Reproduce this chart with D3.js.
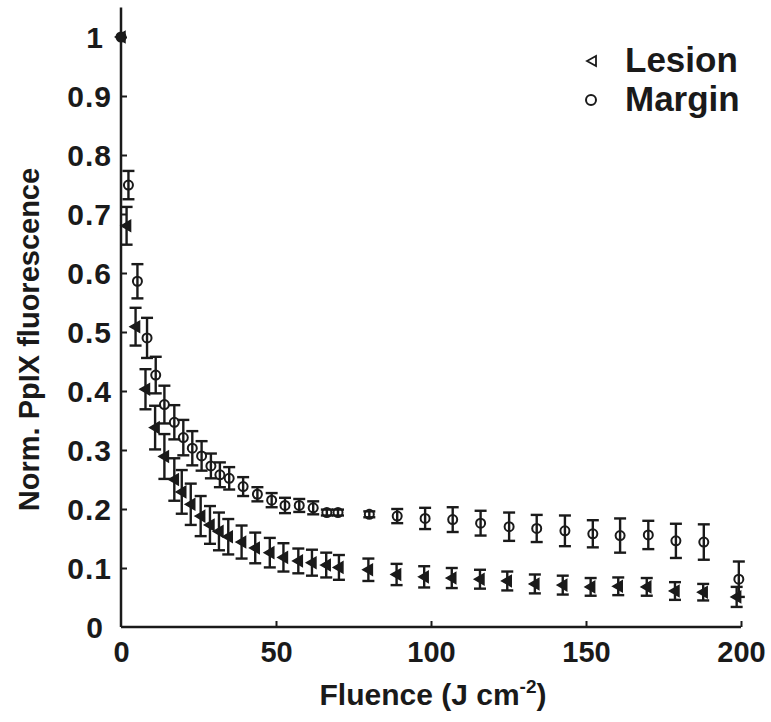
<!DOCTYPE html>
<html>
<head>
<meta charset="utf-8">
<script src="https://cdn.jsdelivr.net/npm/d3@7"></script>
<style>
  html, body { margin: 0; padding: 0; background: #fff; }
  svg text { font-family: Arial, "Liberation Sans", Helvetica, sans-serif; font-weight: bold; fill: #1a1a1a; }
</style>
</head>
<body>
<svg id="chart" width="771" height="722"></svg>
<script>
// ---- Data ----
const lesionFluence = [0, 1.8, 4.7, 7.9, 11.0, 14.0, 17.2, 19.6, 22.5, 25.7, 28.7, 31.6, 34.6, 38.9, 43.3, 48.0, 52.4, 57.2, 61.6, 66.2, 70.3, 79.8, 88.9, 97.8, 106.7, 115.8, 124.6, 133.5, 142.5, 151.5, 160.4, 169.6, 178.7, 187.8, 198.6];
const lesionValue   = [1.0, 0.680, 0.509, 0.403, 0.338, 0.289, 0.250, 0.229, 0.208, 0.188, 0.173, 0.162, 0.153, 0.144, 0.134, 0.126, 0.118, 0.112, 0.109, 0.105, 0.101, 0.097, 0.089, 0.085, 0.083, 0.081, 0.078, 0.073, 0.071, 0.068, 0.069, 0.068, 0.061, 0.059, 0.051];
const lesionError   = [0, 0.032, 0.032, 0.034, 0.037, 0.038, 0.036, 0.037, 0.035, 0.034, 0.032, 0.032, 0.030, 0.028, 0.026, 0.025, 0.024, 0.021, 0.022, 0.021, 0.021, 0.019, 0.018, 0.018, 0.017, 0.016, 0.016, 0.016, 0.016, 0.015, 0.015, 0.015, 0.015, 0.014, 0.017];

const marginFluence = [0, 2.4, 5.3, 8.4, 11.2, 14.0, 17.2, 20.1, 23.0, 26.0, 29.0, 31.9, 34.9, 39.4, 44.0, 48.6, 52.9, 57.5, 62.0, 66.4, 70.0, 80.1, 89.1, 98.1, 107.0, 116.0, 125.2, 134.1, 143.2, 152.2, 161.0, 170.1, 179.0, 188.0, 199.3];
const marginValue   = [1.0, 0.749, 0.586, 0.490, 0.427, 0.377, 0.347, 0.321, 0.303, 0.290, 0.273, 0.258, 0.252, 0.238, 0.225, 0.215, 0.206, 0.206, 0.202, 0.194, 0.194, 0.191, 0.188, 0.184, 0.182, 0.176, 0.170, 0.167, 0.163, 0.158, 0.155, 0.156, 0.146, 0.144, 0.081];
const marginError   = [0, 0.024, 0.029, 0.034, 0.031, 0.032, 0.029, 0.030, 0.029, 0.025, 0.021, 0.021, 0.019, 0.016, 0.012, 0.012, 0.013, 0.011, 0.011, 0.005, 0.005, 0.005, 0.012, 0.018, 0.021, 0.021, 0.024, 0.023, 0.026, 0.023, 0.029, 0.024, 0.029, 0.030, 0.030];

const xTickValues = [0, 50, 100, 150, 200];
const yTickValues = [0, 0.1, 0.2, 0.3, 0.4, 0.5, 0.6, 0.7, 0.8, 0.9, 1];
const yTickLabels = ["0", "0.1", "0.2", "0.3", "0.4", "0.5", "0.6", "0.7", "0.8", "0.9", "1"];
const seriesNames = ["Lesion", "Margin"];
const xTitle = "Fluence (J cm";
const xTitleSup = "-2";
const yTitle = "Norm. PpIX fluorescence";

// ---- Layout ----
const ink = "#1a1a1a";
const svg = d3.select("#chart");
const x = d3.scaleLinear().domain([0, 200]).range([121, 741]);
const y = d3.scaleLinear().domain([0, 1.05]).range([627, 7.5]);

const lesion = lesionFluence.map((f, i) => ({f, v: lesionValue[i], e: lesionError[i]}));
const margin = marginFluence.map((f, i) => ({f, v: marginValue[i], e: marginError[i]}));

// ---- Axes ----
const xAxis = d3.axisBottom(x).tickValues(xTickValues).tickSize(-6).tickPadding(14).tickFormat(d3.format("d"));
const gx = svg.append("g").attr("transform", `translate(0,${y(0)})`).call(xAxis);
gx.select(".domain").attr("stroke", ink).attr("stroke-width", 2.5).attr("d", `M${x(0)},0H${x(200)}`);
gx.selectAll(".tick line").attr("stroke", ink).attr("stroke-width", 2);
gx.selectAll(".tick").filter(d => d === 0).select("line").remove();
gx.selectAll(".tick text").attr("font-size", 29).attr("fill", ink).attr("dy", "0.72em");

const yAxis = d3.axisLeft(y).tickValues(yTickValues).tickSize(-6).tickPadding(9)
  .tickFormat((d, i) => yTickLabels[i]);
const gy = svg.append("g").attr("transform", `translate(${x(0)},0)`).call(yAxis);
gy.select(".domain").attr("stroke", ink).attr("stroke-width", 2.5).attr("d", `M0,${y(0)}V${y(1.05)}`);
gy.selectAll(".tick line").attr("stroke", ink).attr("stroke-width", 2);
gy.selectAll(".tick").filter(d => d === 0).select("line").remove();
gy.selectAll(".tick text").attr("font-size", 30).attr("fill", ink).attr("dy", "0.36em")
  .attr("letter-spacing", 1)
  .attr("dx", d => (d === 0 || d === 1) ? -8 : 0);
svg.selectAll(".domain").attr("fill", "none");

// ---- Axis titles ----
const xt = svg.append("text").attr("x", 433).attr("y", 705).attr("text-anchor", "middle").attr("font-size", 30);
xt.append("tspan").text(xTitle);
xt.append("tspan").attr("font-size", 19).attr("dy", -12).text(xTitleSup);
xt.append("tspan").attr("dy", 12).text(")");

svg.append("text").attr("transform", `translate(39,${(167 + 512) / 2}) rotate(-90)`)
  .attr("text-anchor", "middle").attr("font-size", 29).text(yTitle);

// ---- Error bars ----
function drawErrorBars(data) {
  const g = svg.append("g").attr("stroke", ink).attr("stroke-width", 2.4).attr("fill", "none");
  data.filter(d => d.e > 0).forEach(d => {
    const cx = x(d.f), y0 = y(d.v - d.e), y1 = y(d.v + d.e);
    g.append("line").attr("x1", cx).attr("x2", cx).attr("y1", y0).attr("y2", y1);
    g.append("line").attr("x1", cx - 6).attr("x2", cx + 6).attr("y1", y0).attr("y2", y0);
    g.append("line").attr("x1", cx - 6).attr("x2", cx + 6).attr("y1", y1).attr("y2", y1);
  });
}
drawErrorBars(lesion);
drawErrorBars(margin);

// ---- Markers ----
const tri = "M-5.5,0L4,-5.5L4,5.5Z";
svg.append("g").selectAll("path").data(lesion).join("path")
  .attr("d", tri)
  .attr("transform", d => `translate(${x(d.f)},${y(d.v)})`)
  .attr("fill", ink).attr("stroke", ink).attr("stroke-width", 1.5);

svg.append("g").selectAll("circle").data(margin).join("circle")
  .attr("cx", d => x(d.f)).attr("cy", d => y(d.v)).attr("r", 4.5)
  .attr("fill", d => d.f === 0 ? ink : "none").attr("stroke", ink).attr("stroke-width", 2);

// ---- Legend ----
const lg = svg.append("g");
lg.append("path").attr("d", "M-5,0L4,-5L4,5Z").attr("transform", "translate(592,61)")
  .attr("fill", "none").attr("stroke", ink).attr("stroke-width", 1.8);
lg.append("circle").attr("cx", 591).attr("cy", 100).attr("r", 5)
  .attr("fill", "none").attr("stroke", ink).attr("stroke-width", 2);
lg.append("text").attr("x", 625).attr("y", 72).attr("font-size", 35).text(seriesNames[0]);
lg.append("text").attr("x", 625).attr("y", 111).attr("font-size", 35).text(seriesNames[1]);
</script>
</body>
</html>
